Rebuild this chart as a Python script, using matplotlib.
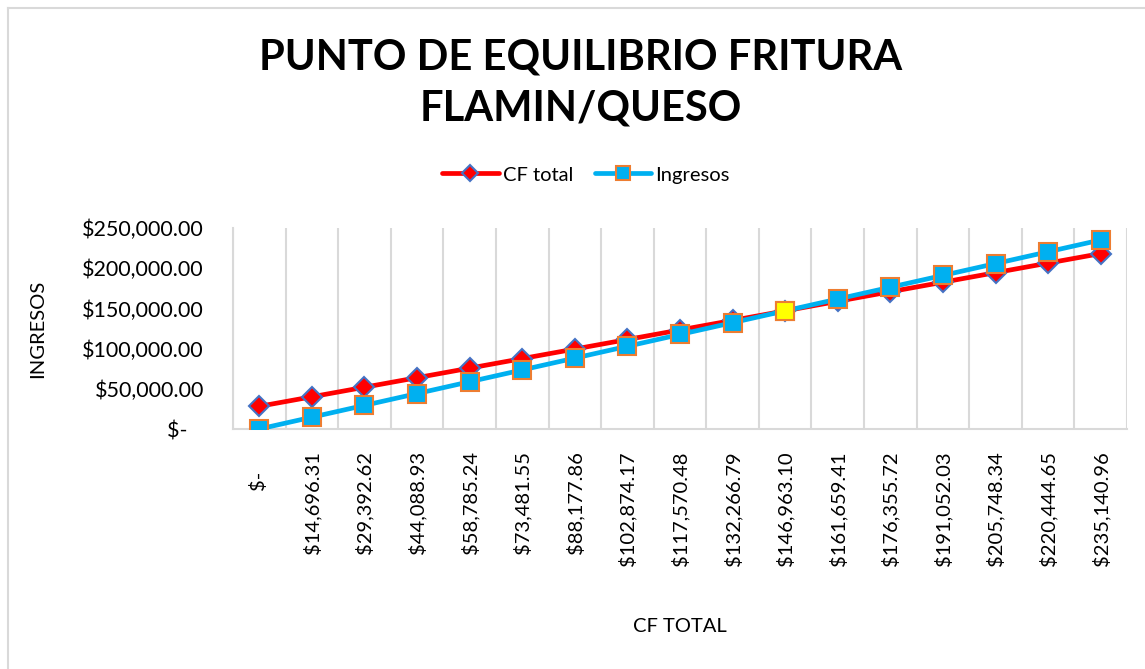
import matplotlib
matplotlib.use("Agg")
import matplotlib.pyplot as plt
from matplotlib.lines import Line2D
from matplotlib.ticker import FuncFormatter, FixedLocator

plt.rcParams['font.family'] = ['Lato', 'DejaVu Sans']

categories = ["$-", "$14,696.31", "$29,392.62", "$44,088.93", "$58,785.24",
              "$73,481.55", "$88,177.86", "$102,874.17", "$117,570.48",
              "$132,266.79", "$146,963.10", "$161,659.41", "$176,355.72",
              "$191,052.03", "$205,748.34", "$220,444.65", "$235,140.96"]
cf_total = [28200, 40076, 51952, 63828, 75704, 87581, 99457, 111333, 123209,
            135085, 146963, 158839, 170715, 182591, 194467, 206344, 218220]
ingresos = [0.00, 14696.31, 29392.62, 44088.93, 58785.24, 73481.55, 88177.86,
            102874.17, 117570.48, 132266.79, 146963.10, 161659.41, 176355.72,
            191052.03, 205748.34, 220444.65, 235140.96]
equilibrio_idx = 10
yticks = [0, 50000, 100000, 150000, 200000, 250000]

W, H = 1145, 669
fig = plt.figure(figsize=(W / 100, H / 100), dpi=100)
ax = fig.add_axes([233 / W, 1 - 429 / H, (1127 - 233) / W, (429 - 228) / H])

x = list(range(len(categories)))
red = "#FF0000"
blue = "#00B0F0"
ax.plot(x, cf_total, color=red, lw=3.4, marker="D", markersize=10,
        markerfacecolor=red, markeredgecolor="#4472C4", markeredgewidth=1.5,
        label="CF total", zorder=3, solid_capstyle="round")
ax.plot(x, ingresos, color=blue, lw=3.4, marker="s", markersize=12.5,
        markerfacecolor=blue, markeredgecolor="#ED7D31", markeredgewidth=1.5,
        label="Ingresos", zorder=4, solid_capstyle="round")
ax.plot([x[equilibrio_idx]], [ingresos[equilibrio_idx]], linestyle="none",
        marker="s", markersize=12.5, markerfacecolor="#FFFF00",
        markeredgecolor="#ED7D31", markeredgewidth=1.5, zorder=5)

ax.set_xlim(-0.5, len(categories) - 0.5)
ax.set_ylim(0, 250000)

ax.set_xticks(x)
ax.set_xticklabels([c if c != "$-" else "$-    " for c in categories],
                   rotation=90, fontsize=14.5, va="top", ha="center")
ax.xaxis.set_minor_locator(FixedLocator([i - 0.5 for i in range(len(categories) + 1)]))
ax.grid(True, which="minor", axis="x", color="#D9D9D9", lw=1.5)
ax.grid(False, which="major")
ax.tick_params(axis="x", which="both", length=0, pad=16)
ax.tick_params(axis="y", length=0, pad=21, labelsize=15.5)

ax.yaxis.set_major_locator(FixedLocator(yticks))
ax.yaxis.set_major_formatter(FuncFormatter(
    lambda v, p: "$-   " if v == 0 else "${:,.2f}".format(v)))

for s in ["top", "right"]:
    ax.spines[s].set_visible(False)
for s in ["left", "bottom"]:
    ax.spines[s].set_color("#D9D9D9")
    ax.spines[s].set_linewidth(1.5)

ax.set_xlabel("CF TOTAL", fontsize=14.5)
ax.xaxis.set_label_coords(0.5, -(627 - 429) / (429 - 228), transform=ax.transAxes)
ax.xaxis.label.set_va("center")
ax.set_ylabel("INGRESOS", fontsize=14.5)
ax.yaxis.set_label_coords(-(233 - 38) / (1127 - 233), 0.5)
ax.yaxis.label.set_va("center")

fig.text(581 / W, 1 - 83 / H, "PUNTO DE EQUILIBRIO FRITURA\nFLAMIN/QUESO",
         ha="center", va="center", fontsize=30, fontweight="bold",
         linespacing=1.4)

fig.legend(loc="center", bbox_to_anchor=(586 / W, 1 - 175 / H), ncol=2,
           frameon=False, fontsize=14.5, handlelength=2.8, columnspacing=1.1,
           handletextpad=0.2, markerscale=0.8)

# chart border
fig.add_artist(Line2D([8 / W, 8 / W], [0, 1 - 8 / H], color="#D9D9D9", lw=1.5))
fig.add_artist(Line2D([8 / W, 1], [1 - 8 / H, 1 - 8 / H], color="#D9D9D9", lw=1.5))

fig.savefig("out.png", dpi=100)
